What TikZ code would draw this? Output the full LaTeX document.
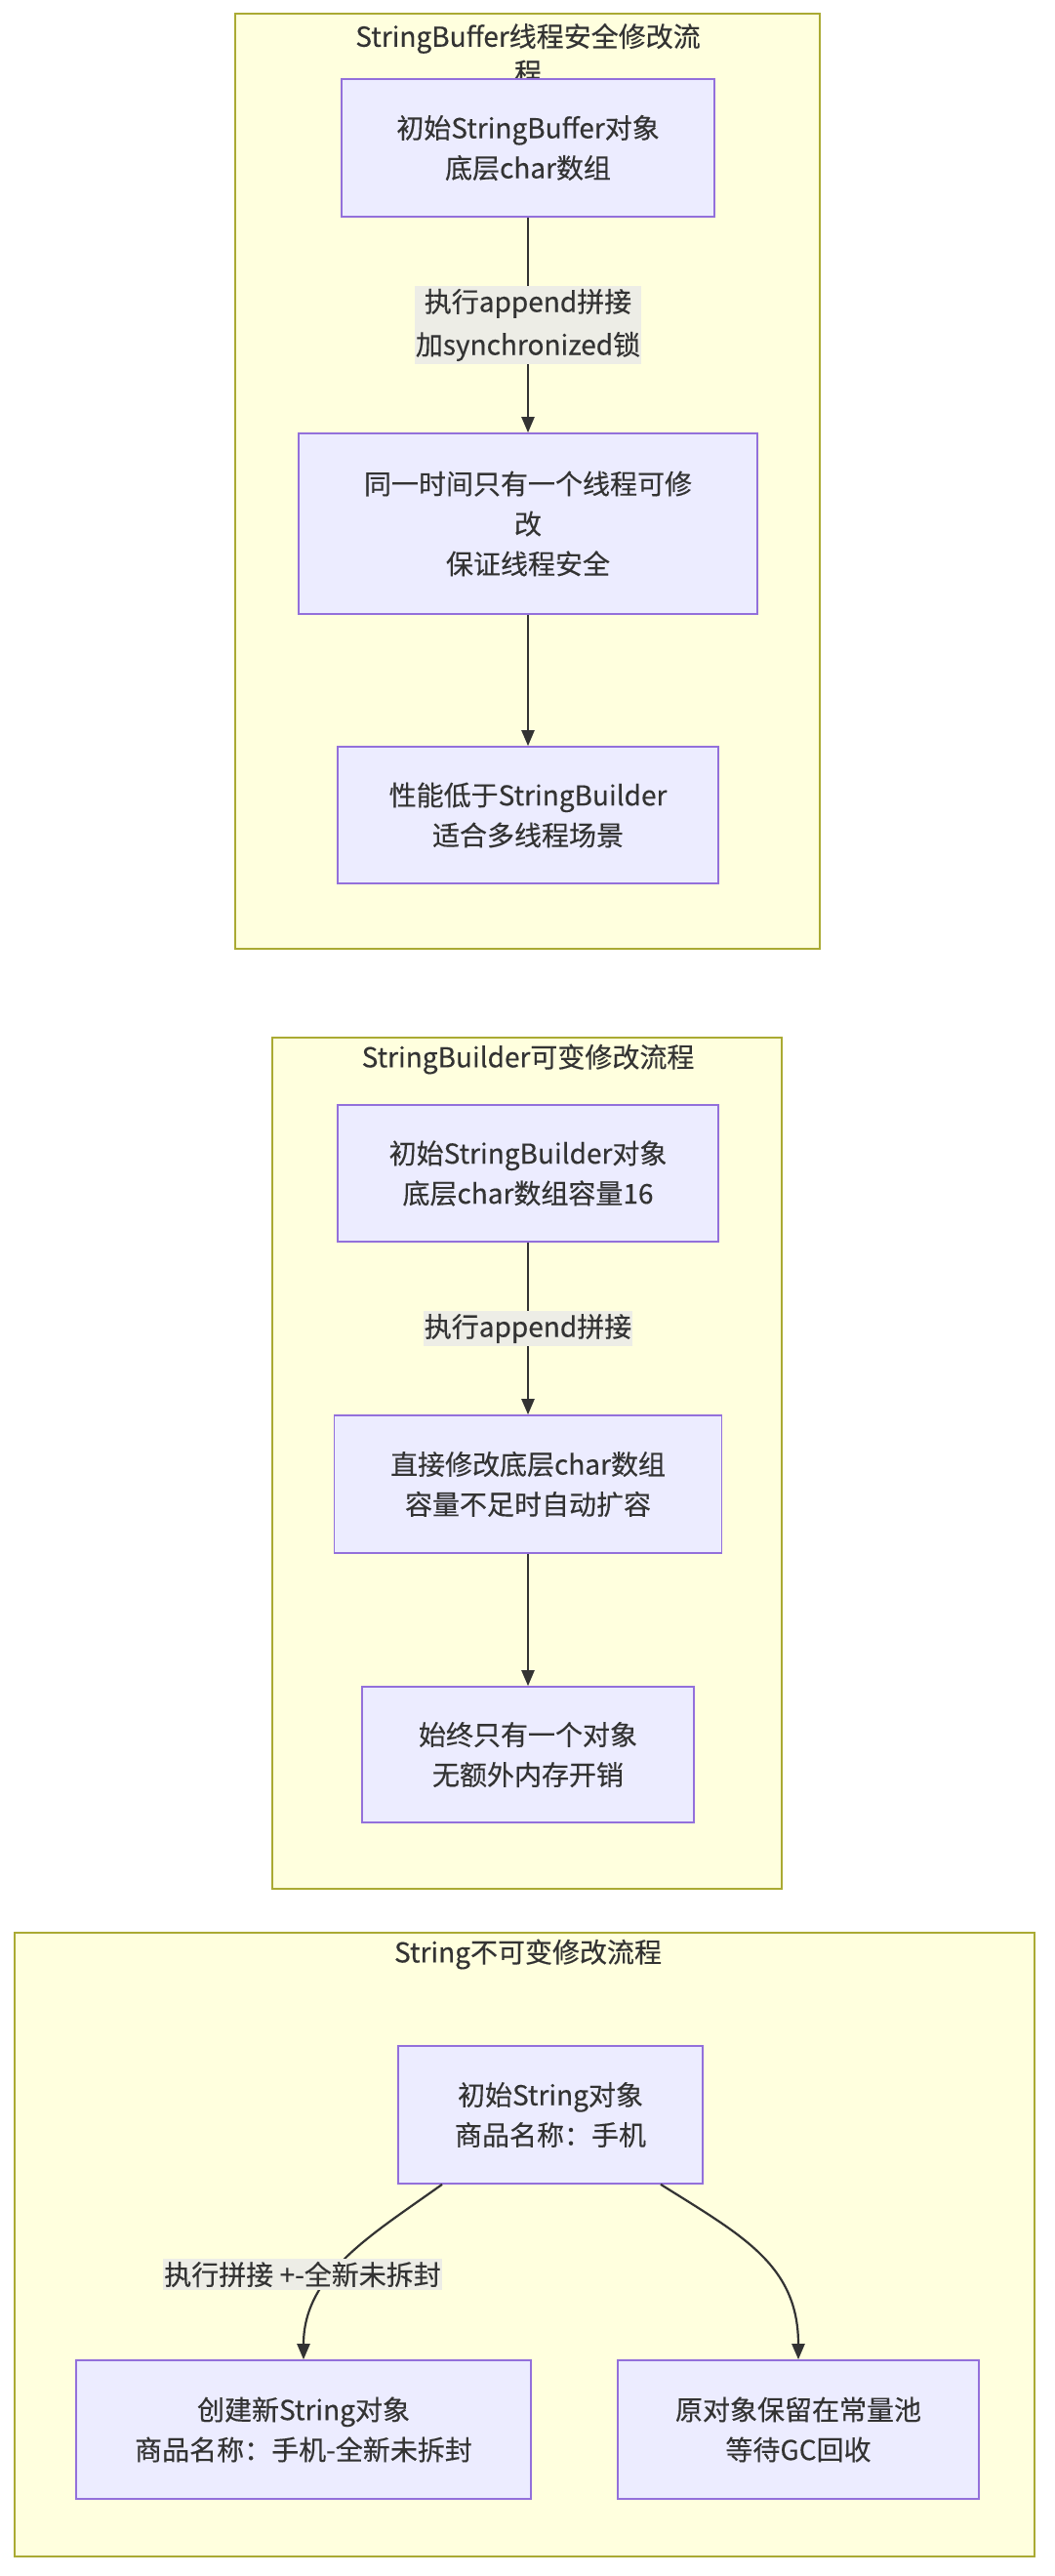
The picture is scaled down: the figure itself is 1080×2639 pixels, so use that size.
\documentclass[tikz,border=0pt]{standalone}
\usepackage{fontspec}
\setmainfont{Noto Sans CJK SC}[FakeBold=0.3]
\usetikzlibrary{arrows.meta}
\definecolor{clfill}{HTML}{FFFFDE}
\definecolor{clline}{HTML}{AAAA33}
\definecolor{ndfill}{HTML}{ECECFF}
\definecolor{ndline}{HTML}{9370DB}
\definecolor{txt}{HTML}{333333}
\definecolor{lblfill}{HTML}{EDEDE6}
\newcommand\nodefont{\fontsize{28}{41}\selectfont}
\tikzset{
  cluster/.style={draw=clline, fill=clfill, line width=1.6pt, inner sep=0pt},
  box/.style={draw=ndline, fill=ndfill, line width=1.6pt, align=center, text=txt, inner sep=0pt, font=\nodefont},
  lbl/.style={fill=lblfill, align=center, text=txt, inner xsep=1pt, inner ysep=3pt, font=\nodefont},
  ttl/.style={align=center, text=txt, font=\nodefont, inner sep=0pt},
  edge/.style={draw=txt, line width=2.2pt, -{Triangle[length=16pt,width=13pt]}},
}
\begin{document}
\begin{tikzpicture}[x=1pt,y=-1pt]
\useasboundingbox (0,0) rectangle (1080,2639);
\fill[white] (0,0) rectangle (1080,2639);

% ---------- Cluster 1: StringBuffer ----------
\node[cluster, minimum width=599pt, minimum height=958pt] (c1) at (540.5,493) {};
\node[ttl, font=\fontsize{28}{37}\selectfont] (t1) at (541,55.5) {StringBuffer线程安全修改流\\程};
\node[box, minimum width=382pt, minimum height=141pt] (a1) at (541,151.5) {初始StringBuffer对象\\底层char数组};
\node[box, minimum width=470pt, minimum height=185pt] (a2) at (541,536.5) {同一时间只有一个线程可修\\改\\保证线程安全};
\node[box, minimum width=390pt, minimum height=140pt] (a3) at (541,835) {性能低于StringBuilder\\适合多线程场景};
\draw[edge] (a1) -- node[lbl, font=\fontsize{28}{44}\selectfont] (la1) {执行append拼接\\加synchronized锁} (a2);
\draw[edge] (a2) -- (a3);

% ---------- Cluster 2: StringBuilder ----------
\node[cluster, minimum width=522pt, minimum height=872pt] (c2) at (540,1499) {};
\node[ttl] (t2) at (541,1085) {StringBuilder可变修改流程};
\node[box, minimum width=390pt, minimum height=140pt] (b1) at (541,1202) {初始StringBuilder对象\\底层char数组容量16};
\node[box, minimum width=397pt, minimum height=141pt] (b2) at (541,1520.5) {直接修改底层char数组\\容量不足时自动扩容};
\node[box, minimum width=340pt, minimum height=139pt] (b3) at (541,1797.5) {始终只有一个对象\\无额外内存开销};
\draw[edge] (b1) -- node[lbl] (lb1) {执行append拼接} (b2);
\draw[edge] (b2) -- (b3);

% ---------- Cluster 3: String ----------
\node[cluster, minimum width=1045pt, minimum height=639pt] (c3) at (537.5,2299.5) {};
\node[ttl] (t3) at (541,2002) {String不可变修改流程};
\node[box, minimum width=312pt, minimum height=141pt] (s1) at (564,2166.5) {初始String对象\\商品名称：手机};
\node[box, minimum width=466pt, minimum height=142pt] (s2) at (311,2489) {创建新String对象\\商品名称：手机-全新未拆封};
\node[box, minimum width=370pt, minimum height=142pt] (s3) at (818,2489) {原对象保留在常量池\\等待GC回收};
\draw[edge] ([xshift=-111pt]s1.south) .. controls (380,2290) and (311,2330) .. (s2.north);
\draw[edge] ([xshift=113pt]s1.south) .. controls (760,2290) and (818,2320) .. (s3.north);
\node[lbl] (ls1) at (310,2330) {执行拼接 +-全新未拆封};
\end{tikzpicture}
\end{document}
